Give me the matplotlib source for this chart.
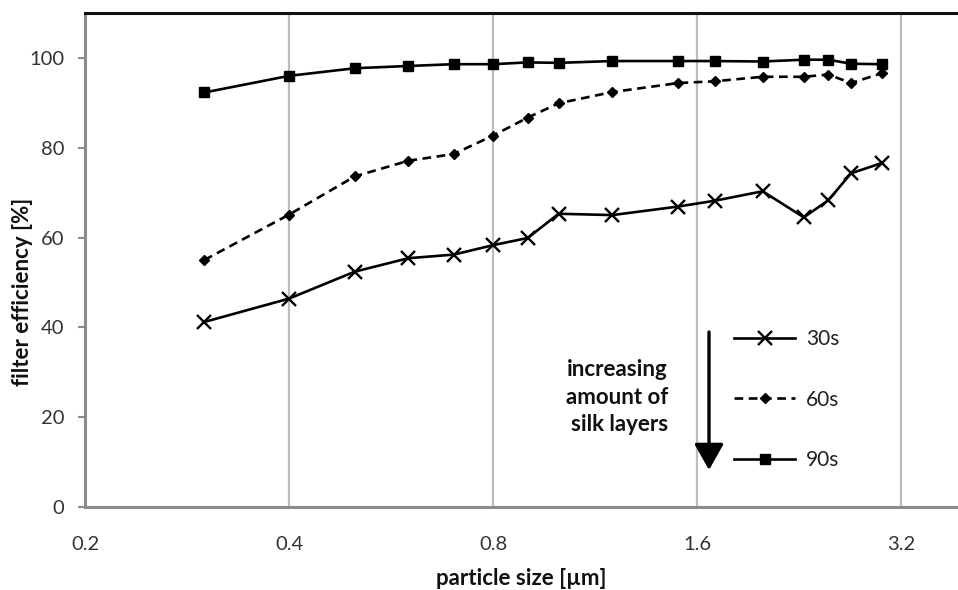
import matplotlib
matplotlib.use("Agg")
import matplotlib.pyplot as plt
from matplotlib.ticker import FixedLocator, FixedFormatter, NullLocator

plt.rcParams['font.family'] = ['Lato', 'DejaVu Sans']

particle_size = [0.3, 0.4, 0.5, 0.6, 0.7, 0.8, 0.9, 1.0, 1.2, 1.5, 1.7, 2.0, 2.3, 2.5, 2.7, 3.0]
eff_30s = [41.2, 46.4, 52.4, 55.4, 56.2, 58.3, 59.9, 65.3, 65.0, 66.9, 68.2, 70.3, 64.5, 68.3, 74.3, 76.6]
eff_60s = [55.0, 65.1, 73.6, 77.1, 78.6, 82.7, 86.7, 89.9, 92.4, 94.4, 94.8, 95.8, 95.8, 96.3, 94.4, 96.6]
eff_90s = [92.3, 96.0, 97.7, 98.2, 98.6, 98.6, 99.0, 98.9, 99.3, 99.3, 99.3, 99.2, 99.6, 99.6, 98.7, 98.6]
series_labels = ['30s', '60s', '90s']
x_ticks = [0.2, 0.4, 0.8, 1.6, 3.2]
x_tick_labels = ['0.2', '0.4', '0.8', '1.6', '3.2']
y_ticks = [0, 20, 40, 60, 80, 100]

W, H = 958, 590
fig = plt.figure(figsize=(W / 100, H / 100), dpi=100)
ax = fig.add_axes([85 / W, (H - 507) / H, (W - 85) / W, (507 - 13) / H])

ax.set_xscale('log', base=2)
ax.set_xlim(0.2, 0.2 * 2 ** (873 / 204))
ax.set_ylim(0, 110)

ax.plot(particle_size, eff_30s, color='black', lw=1.9, marker='x', ms=10, mew=1.7, label=series_labels[0])
ax.plot(particle_size, eff_60s, color='black', lw=1.9, ls=(0, (3.3, 2.1)), marker='D', ms=5.5, label=series_labels[1])
ax.plot(particle_size, eff_90s, color='black', lw=1.9, marker='s', ms=7.5, label=series_labels[2])

ax.xaxis.set_major_locator(FixedLocator(x_ticks))
ax.xaxis.set_major_formatter(FixedFormatter(x_tick_labels))
ax.xaxis.set_minor_locator(NullLocator())
ax.set_yticks(y_ticks)

ax.grid(axis='x', color='#bdbdbd', lw=1.6)
ax.set_axisbelow(True)

for s in ['left', 'bottom']:
    ax.spines[s].set_color('#8c8c8c')
    ax.spines[s].set_linewidth(2.2)
ax.spines['top'].set_color('#111111')
ax.spines['top'].set_linewidth(2.2)
ax.spines['right'].set_visible(False)

ax.tick_params(axis='x', length=0, pad=21, labelsize=14.5, labelcolor='#333333')
ax.tick_params(axis='y', length=5, width=1.5, color='#8c8c8c', pad=10, labelsize=14.5, labelcolor='#333333')

ax.set_xlabel('particle size [µm]', fontsize=16, fontweight='bold', labelpad=11, color='#111111')
ax.set_ylabel('filter efficiency [%]', fontsize=16, fontweight='bold', color='#111111')
ax.yaxis.set_label_coords(-52 / 873, 0.435)

leg = ax.legend(loc='upper left', bbox_to_anchor=(734 / W, (H - 329) / H),
                bbox_transform=fig.transFigure, frameon=False, fontsize=15,
                handlelength=2.95, handletextpad=0.5, labelspacing=1.95,
                borderpad=0, borderaxespad=0)
for t in leg.get_texts():
    t.set_color('#222222')

ax.annotate('', xy=(709, H - 470), xytext=(709, H - 332), xycoords='figure pixels',
            textcoords='figure pixels',
            arrowprops=dict(arrowstyle='-|>,head_length=0.8,head_width=0.45', lw=2.4,
                            color='black', mutation_scale=20, shrinkA=0, shrinkB=0))
fig.text(668, H - 397, 'increasing\namount of\nsilk layers', transform=None,
         ha='right', va='center', fontsize=16, fontweight='bold', linespacing=1.4,
         color='#111111')

fig.savefig('out.png', dpi=100)
